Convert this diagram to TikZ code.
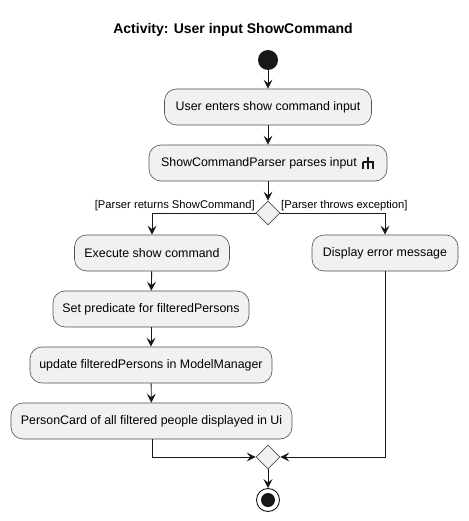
\documentclass[tikz,border=0pt]{standalone}
\usepackage{fontspec}
\setmainfont{Liberation Sans}
\usetikzlibrary{arrows.meta,shapes.geometric}
\definecolor{actfill}{HTML}{F1F1F1}
\definecolor{actline}{HTML}{181818}
\tikzset{
  act/.style={draw=actline!75, line width=0.6pt, fill=actfill, rounded corners=12pt, minimum height=36pt, inner sep=0pt, font=\fontsize{12.4}{14}\selectfont},
  txt/.style={inner sep=0pt, font=\fontsize{12.4}{14}\selectfont},
  guard/.style={inner sep=0pt, font=\fontsize{11.2}{13}\selectfont},
  dia/.style={draw=actline!75, line width=0.6pt, fill=actfill, diamond, minimum width=24pt, minimum height=24pt, inner sep=0pt},
  flow/.style={draw=actline, line width=0.9pt, -{Stealth[length=9pt,width=9pt,inset=3.5pt]}},
}
\begin{document}
\begin{tikzpicture}[x=1pt,y=-1pt]
\useasboundingbox (0,0) rectangle (468,521);
\node[font=\bfseries\fontsize{14}{16}\selectfont] (title) at (233,30) {Activity: User input ShowCommand};
\node[circle, fill=actline, minimum size=20pt, inner sep=0pt] (start) at (268,60) {};
\node[act, minimum width=207pt] (b1) at (268,107) {User enters show command input};
\node[act, minimum width=238pt] (b2) at (268,163) {};
\node[txt] (b2t) at (259,163) {ShowCommandParser parses input};
\draw[actline, line width=1.2pt, line cap=butt] (368,157) -- (368,162) (362.5,162) -- (373.5,162) (363,162) -- (363,169.5) (368,162) -- (368,169.5) (373,162) -- (373,169.5);
\node[dia] (d1) at (268,213) {};
\node[guard, anchor=south east] (g1) at (255,211) {[Parser returns ShowCommand]};
\node[guard, anchor=south west] (g2) at (281,211) {[Parser throws exception]};
\node[act, minimum width=155pt] (b3) at (152,253) {Execute show command};
\node[act, minimum width=146pt] (err) at (385,253) {Display error message};
\node[act, minimum width=196pt] (b4) at (151,309) {Set predicate for filteredPersons};
\node[act, minimum width=242pt] (b5) at (151,365) {update filteredPersons in ModelManager};
\node[act, minimum width=281pt] (b6) at (151.5,421) {PersonCard of all filtered people displayed in Ui};
\node[dia] (d2) at (268,457) {};
\node[circle, draw=actline, line width=0.9pt, fill=white, minimum size=23pt, inner sep=0pt] (end) at (268,500) {};
\node[circle, fill=actline, minimum size=14pt, inner sep=0pt] (endi) at (268,500) {};
\draw[flow] (start) -- (b1);
\draw[flow] (b1) -- (b2);
\draw[flow] (b2) -- (d1);
\draw[flow] (d1.west) -| (b3.north);
\draw[flow] (d1.east) -| (err.north);
\draw[flow] (b3) -- (b4);
\draw[flow] (b4) -- (b5);
\draw[flow] (b5) -- (b6);
\draw[flow] (b6.south -| 152,0) |- (d2.west);
\draw[flow] (err.south) |- (d2.east);
\draw[flow] (d2) -- (end);
\end{tikzpicture}
\end{document}
